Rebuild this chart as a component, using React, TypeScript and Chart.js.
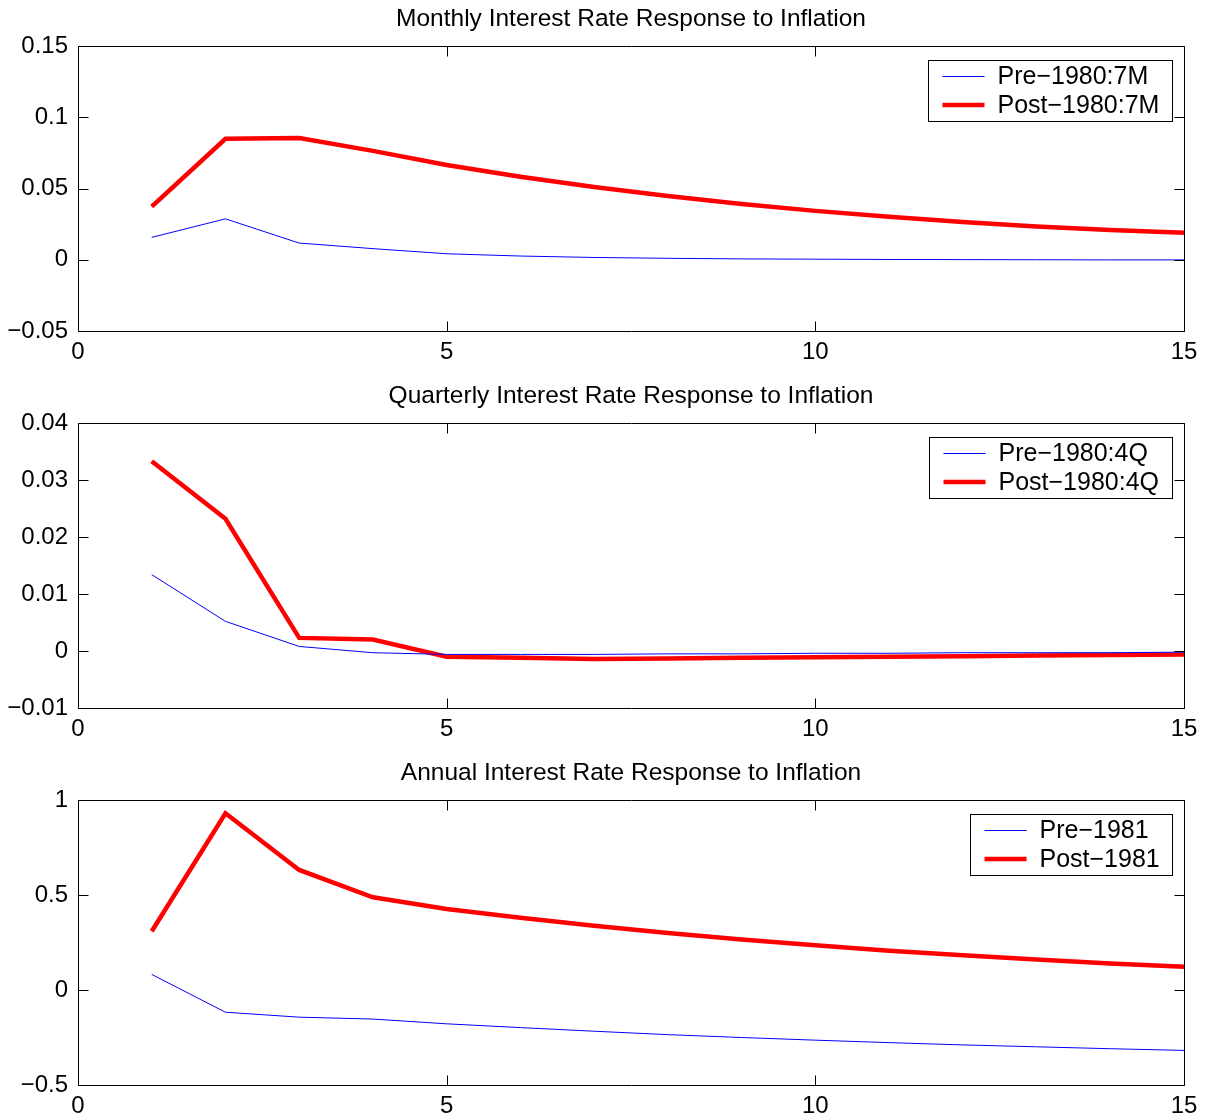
import React, { useEffect, useRef } from "react";
import { Chart, registerables } from "chart.js";

Chart.register(...registerables);

// ---------- data ----------
const steps = [1, 2, 3, 4, 5, 6, 7, 8, 9, 10, 11, 12, 13, 14, 15];

const monthlyPre = [0.0157, 0.0287, 0.0117, 0.0078, 0.0042, 0.0026, 0.0016, 0.001, 0.0006, 0.0004, 0.0002, 0.0001, 0.0, -0.0001, -0.0001];
const monthlyPost = [0.0373, 0.0849, 0.0854, 0.0764, 0.0665, 0.0583, 0.051, 0.0447, 0.0391, 0.0343, 0.0301, 0.0265, 0.0234, 0.0208, 0.019];

const quarterlyPre = [0.0134, 0.0052, 0.0008, -0.0003, -0.0006, -0.0006, -0.0006, -0.0005, -0.0005, -0.0004, -0.0004, -0.0003, -0.0003, -0.0003, -0.0002];
const quarterlyPost = [0.0333, 0.0232, 0.0023, 0.002, -0.001, -0.0012, -0.0014, -0.0013, -0.0012, -0.0011, -0.001, -0.0009, -0.0008, -0.0007, -0.0006];

const annualPre = [0.082, -0.117, -0.143, -0.153, -0.178, -0.198, -0.217, -0.235, -0.25, -0.264, -0.277, -0.289, -0.299, -0.309, -0.318];
const annualPost = [0.309, 0.93, 0.632, 0.488, 0.426, 0.38, 0.338, 0.3, 0.266, 0.235, 0.207, 0.183, 0.161, 0.14, 0.122];

const titles = [
  "Monthly Interest Rate Response to Inflation",
  "Quarterly Interest Rate Response to Inflation",
  "Annual Interest Rate Response to Inflation",
];
const preLabels = ["Pre\u22121980:7M", "Pre\u22121980:4Q", "Pre\u22121981"];
const postLabels = ["Post\u22121980:7M", "Post\u22121980:4Q", "Post\u22121981"];

const yMins = [-0.05, -0.01, -0.5];
const yMaxs = [0.15, 0.04, 1];
const ySteps = [0.05, 0.01, 0.5];
const xMin = 0;
const xMax = 15;
const xStep = 5;

// ---------- style ----------
const FONT = '"Liberation Sans", Arial, Helvetica, sans-serif';
const FONT_SIZE = 24;
const TITLE_SIZE = 24.5;
const LEGEND_SIZE = 25;
const TICK_LEN = 10;
const W = 1206;
const H = 377;

const fmt = (v: number) => {
  const r = Math.round(v * 1e6) / 1e6;
  return r < 0 ? "\u2212" + String(-r) : String(r);
};

const framePlugin = {
  id: "matlabFrame",
  afterDraw(chart: any) {
    const { ctx, chartArea } = chart;
    const { left, right, top, bottom } = chartArea;
    const xs = chart.scales.x;
    const ys = chart.scales.y;
    ctx.save();
    ctx.strokeStyle = "#000";
    ctx.lineWidth = 1;
    const L = Math.round(left) + 0.5;
    const R = Math.round(right) + 0.5;
    const T = Math.round(top) + 0.5;
    const B = Math.round(bottom) + 0.5;
    ctx.beginPath();
    ctx.rect(L, T, R - L, B - T);
    xs.ticks.forEach((t: any) => {
      const px = Math.round(xs.getPixelForValue(t.value)) + 0.5;
      ctx.moveTo(px, B);
      ctx.lineTo(px, B - TICK_LEN);
      ctx.moveTo(px, T);
      ctx.lineTo(px, T + TICK_LEN);
    });
    ys.ticks.forEach((t: any) => {
      const py = Math.round(ys.getPixelForValue(t.value)) + 0.5;
      ctx.moveTo(L, py);
      ctx.lineTo(L + TICK_LEN, py);
      ctx.moveTo(R, py);
      ctx.lineTo(R - TICK_LEN, py);
    });
    ctx.stroke();

    // legend box (MATLAB style, inside top-right)
    ctx.font = `${LEGEND_SIZE}px ${FONT}`;
    const dsets = chart.data.datasets;
    let maxW = 0;
    dsets.forEach((d: any) => {
      maxW = Math.max(maxW, ctx.measureText(d.label).width);
    });
    const boxW = Math.round(69 + maxW + 13);
    const boxH = 61;
    const bx = Math.round(right - 12 - boxW) + 0.5;
    const by = Math.round(top + 14) + 0.5;
    ctx.fillStyle = "#fff";
    ctx.fillRect(bx, by, boxW, boxH);
    ctx.strokeStyle = "#000";
    ctx.lineWidth = 1;
    ctx.strokeRect(bx, by, boxW, boxH);
    dsets.forEach((d: any, i: number) => {
      const cy = Math.round(by + 15 + i * 29) + (d.borderWidth < 2 ? 0.5 : 0);
      ctx.beginPath();
      ctx.strokeStyle = d.borderColor;
      ctx.lineWidth = d.borderWidth;
      ctx.moveTo(bx + 14, cy);
      ctx.lineTo(bx + 56, cy);
      ctx.stroke();
      ctx.fillStyle = "#000";
      ctx.textAlign = "left";
      ctx.textBaseline = "middle";
      ctx.fillText(d.label, bx + 69, cy + 1);
    });
    ctx.restore();
  },
};

type PanelProps = {
  title: string;
  pre: number[];
  post: number[];
  preLabel: string;
  postLabel: string;
  yMin: number;
  yMax: number;
  yStep: number;
};

function Panel(props: PanelProps) {
  const ref = useRef<HTMLCanvasElement | null>(null);
  useEffect(() => {
    if (!ref.current) return;
    const chart = new Chart(ref.current, {
      type: "line",
      data: {
        datasets: [
          {
            label: props.preLabel,
            data: steps.map((s, i) => ({ x: s, y: props.pre[i] })),
            borderColor: "#0000ff",
            borderWidth: 1,
            pointRadius: 0,
            tension: 0,
            fill: false,
          },
          {
            label: props.postLabel,
            data: steps.map((s, i) => ({ x: s, y: props.post[i] })),
            borderColor: "#ff0000",
            borderWidth: 4.5,
            pointRadius: 0,
            tension: 0,
            fill: false,
          },
        ],
      },
      options: {
        responsive: false,
        animation: false,
        devicePixelRatio: 1,
        layout: { padding: { left: 0, right: 22, top: 0, bottom: 0 } },
        plugins: {
          legend: { display: false },
          tooltip: { enabled: false },
          title: {
            display: true,
            text: props.title,
            fullSize: false,
            color: "#000",
            font: { family: FONT, size: TITLE_SIZE, weight: "normal", lineHeight: 1.2 },
            padding: { top: 4.3, bottom: 12.3 },
          },
        },
        scales: {
          x: {
            type: "linear",
            min: xMin,
            max: xMax,
            border: { display: false },
            grid: { display: false, drawTicks: false },
            ticks: {
              stepSize: xStep,
              padding: 7,
              color: "#000",
              maxRotation: 0,
              font: { family: FONT, size: FONT_SIZE },
              callback: (v: any) => fmt(Number(v)),
            },
            afterFit: (s: any) => {
              s.height = 46;
            },
          },
          y: {
            type: "linear",
            min: props.yMin,
            max: props.yMax,
            border: { display: false },
            grid: { display: false, drawTicks: false },
            ticks: {
              stepSize: props.yStep,
              padding: 10,
              color: "#000",
              font: { family: FONT, size: FONT_SIZE },
              callback: (v: any) => fmt(Number(v)),
            },
            afterFit: (s: any) => {
              s.width = 78;
            },
          },
        },
      } as any,
      plugins: [framePlugin],
    });
    return () => chart.destroy();
  }, []);
  return <canvas ref={ref} width={W} height={H} style={{ display: "block", width: W, height: H }} />;
}

export default function App() {
  const pres = [monthlyPre, quarterlyPre, annualPre];
  const posts = [monthlyPost, quarterlyPost, annualPost];
  return (
    <div style={{ position: "absolute", top: 0, left: 0, width: W, height: 1120, overflow: "hidden", background: "#fff" }}>
      {titles.map((t, i) => (
        <Panel
          key={i}
          title={t}
          pre={pres[i]}
          post={posts[i]}
          preLabel={preLabels[i]}
          postLabel={postLabels[i]}
          yMin={yMins[i]}
          yMax={yMaxs[i]}
          yStep={ySteps[i]}
        />
      ))}
    </div>
  );
}
